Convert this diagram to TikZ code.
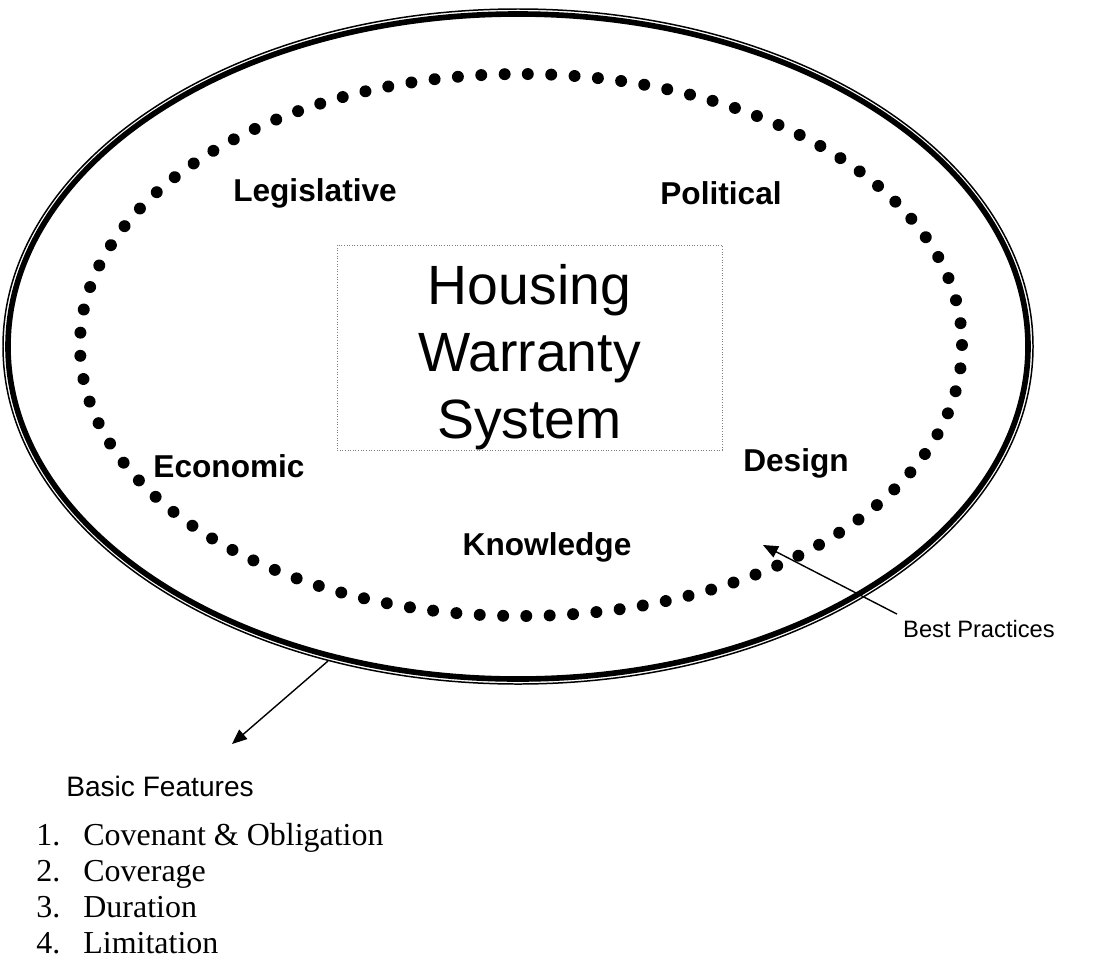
\documentclass[tikz,border=0pt]{standalone}
\usepackage{fontspec}
\setmainfont{Liberation Serif}
\setsansfont{Liberation Sans}
\usetikzlibrary{arrows.meta,positioning,decorations.markings}

\tikzset{
  factor/.style={font=\sffamily\bfseries\fontsize{18}{22}\selectfont},
  note/.style={font=\sffamily\fontsize{13.5}{16}\selectfont},
  item/.style={anchor=base west,inner sep=0pt,font=\rmfamily\fontsize{18.2}{22}\selectfont},
  dotring/.style={decoration={markings,
      mark=between positions 0 and 0.995 step 0.010309 with {\fill (0,0) circle (3.4pt);}},
    postaction={decorate}}
}

\begin{document}
\begin{tikzpicture}[x=0.02cm,y=-0.02cm,>={Triangle[length=8.5pt,width=7pt]}]
  \useasboundingbox (0,0) rectangle (1094,960);

  % outer rim: thin line outside, heavy line inside
  \draw[line width=0.85pt] (518,346.5) ellipse [x radius=515, y radius=337.5];
  \draw[line width=3.2pt] (518,346.5) ellipse [x radius=510, y radius=332.5];

  % ring of dots
  \path[dotring] (521,345) ellipse [x radius=441, y radius=271];

  % core box
  \node[draw=gray,densely dotted,line width=0.5pt,minimum width=385*0.02cm,
    minimum height=205*0.02cm] (core) at (529.5,347.5) {};
  \node[align=center,font=\sffamily\fontsize{31.5}{38}\selectfont] (title)
    at (529.5,357) {Housing\\Warranty\\System};

  \node[factor] (legis) at (315,193) {Legislative};
  \node[factor] (polit) at (721,193) {Political};
  \node[factor] (econ) at (229,466) {Economic};
  \node[factor] (design) at (796,463) {Design};
  \node[factor] (know) at (547,547) {Knowledge};

  % best practices
  \node[note] (practices) at (979,629) {Best Practices};
  \coordinate (ring) at (763,545);
  \draw[->,line width=0.8pt] (practices.north west) -- (ring);

  % basic features
  \coordinate (rim) at (328,661);
  \coordinate (feat) at (232,744);
  \draw[->,line width=0.8pt] (rim) -- (feat);
  \node[note,font=\sffamily\fontsize{16}{19}\selectfont] (basic) at (160,786) {Basic Features};

  \foreach \n/\txt [count=\i] in {1/{Covenant \& Obligation},2/Coverage,3/Duration,4/Limitation} {
    \node[item] (num\i) at (36,845+36*\i-36) {\n.};
    \node[item] (txt\i) at (83,845+36*\i-36) {\txt};
  }
\end{tikzpicture}
\end{document}
